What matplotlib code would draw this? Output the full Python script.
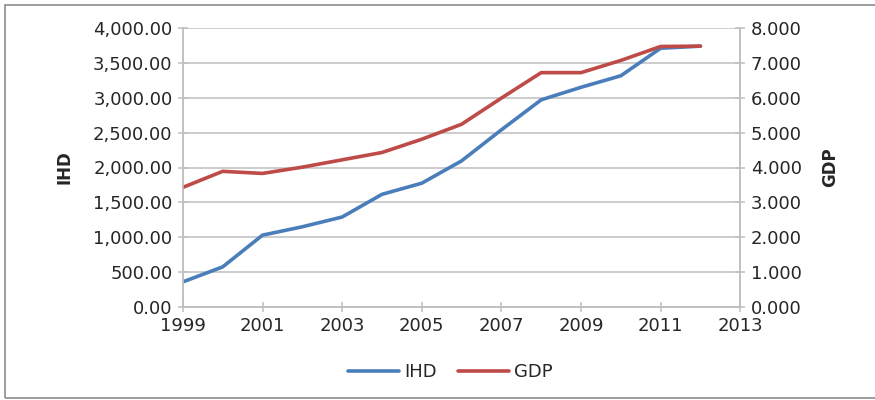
import numpy as np
import matplotlib
matplotlib.use("Agg")
from matplotlib import pyplot as plt
from matplotlib.ticker import FuncFormatter, MultipleLocator
from matplotlib.patches import Rectangle

years = [1999, 2000, 2001, 2002, 2003, 2004, 2005, 2006, 2007, 2008, 2009, 2010, 2011, 2012]
ihd = [360, 575, 1030, 1150, 1290, 1615, 1775, 2095, 2540, 2970, 3150, 3315, 3710, 3740]
gdp = [3.43, 3.89, 3.83, 4.01, 4.22, 4.43, 4.81, 5.24, 5.99, 6.72, 6.72, 7.07, 7.47, 7.48]
year_ticks = [1999, 2001, 2003, 2005, 2007, 2009, 2011, 2013]

blue = "#4A7EBB"
red = "#BE4B48"
grid_col = "#BFBFBF"
txt = "#262626"

plt.rcParams['font.family'] = 'DejaVu Sans'
plt.rcParams['font.size'] = 13

fig = plt.figure(figsize=(8.75, 4.0), dpi=100)
ax = fig.add_axes([0.209, 0.2325, 0.637, 0.6975])
ax2 = ax.twinx()

l1, = ax.plot(years, ihd, color=blue, lw=2.6, label="IHD", solid_capstyle="round")
l2, = ax2.plot(years, gdp, color=red, lw=2.6, label="GDP", solid_capstyle="round")

ax.set_xlim(1999, 2013)
ax.set_ylim(0, 4000)
ax2.set_ylim(0, 8)
ax.set_xticks(year_ticks)
ax.yaxis.set_major_locator(MultipleLocator(500))
ax2.yaxis.set_major_locator(MultipleLocator(1))
ax.yaxis.set_major_formatter(FuncFormatter(lambda v, p: "{:,.2f}".format(v)))
ax2.yaxis.set_major_formatter(FuncFormatter(lambda v, p: "{:.3f}".format(v)))

ax.grid(axis="y", color=grid_col, lw=1.1)
ax.set_axisbelow(True)
for a in (ax, ax2):
    for s in a.spines.values():
        s.set_color(grid_col)
        s.set_linewidth(1.1)
    a.spines["top"].set_visible(False)
    a.tick_params(direction="inout", length=7, width=1.1, color=grid_col, labelcolor=txt, labelsize=13)
ax.tick_params(axis="y", pad=4)
ax2.tick_params(axis="y", pad=4)
ax.tick_params(axis="x", pad=4)

ax.set_ylabel("IHD", fontweight="bold", color=txt, fontsize=12, labelpad=14)
ax2.set_ylabel("GDP", fontweight="bold", color=txt, fontsize=12, rotation=90, labelpad=14)

fig.legend(handles=[l1, l2], loc="center", bbox_to_anchor=(0.515, 0.07), ncol=2,
           frameon=False, fontsize=13, handlelength=2.8, columnspacing=1.2,
           handletextpad=0.3, labelcolor=txt)

# outer chart border
fig.patches.append(Rectangle((5 / 875, 2 / 400), 1.2, 393 / 400, transform=fig.transFigure,
                             fill=False, edgecolor="#8C8C8C", lw=1.2))

fig.savefig("out.png", dpi=100)
